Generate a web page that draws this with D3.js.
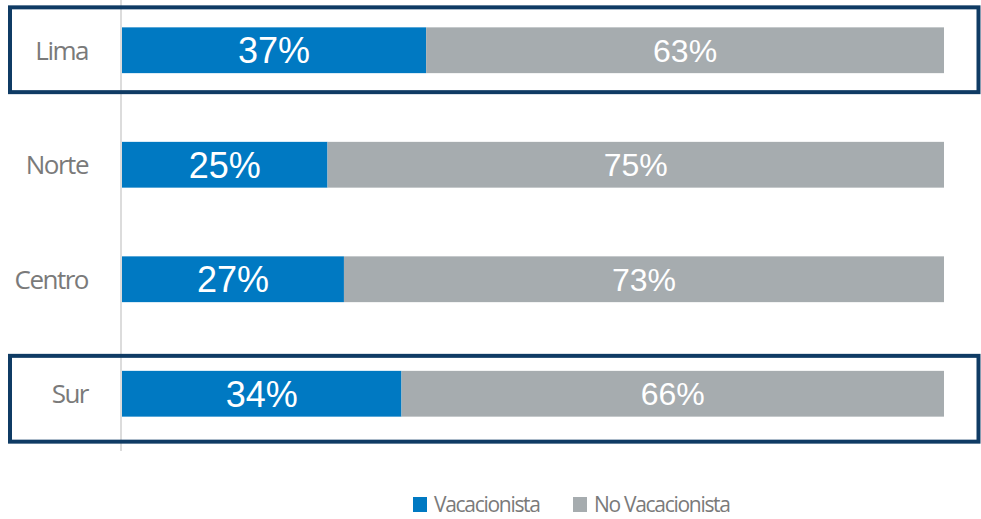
<!DOCTYPE html>
<html>
<head>
<meta charset="utf-8">
<script src="https://cdn.jsdelivr.net/npm/d3@7"></script>
<style>
  html, body { margin: 0; padding: 0; background: #fff; }
  svg { display: block; }
</style>
</head>
<body>
<svg id="chart" width="981" height="519"></svg>
<script>
// Share of travellers by region
const regions = ["Lima", "Norte", "Centro", "Sur"];
const vacacionista = [37, 25, 27, 34];
const noVacacionista = [63, 75, 73, 66];
const seriesNames = ["Vacacionista", "No Vacacionista"];
const highlighted = ["Lima", "Sur"];

const colors = { vac: "#0079c2", noVac: "#a6acaf", frame: "#0f3b64", text: "#7a7a7a", axis: "#dcdcdc" };

const svg = d3.select("#chart");

const x = d3.scaleLinear().domain([0, 100]).range([122, 944]);
const y = d3.scaleBand().domain(regions).range([-7, 451]).paddingInner(0.6).paddingOuter(0.3);

const rows = regions.map((r, i) => ({ region: r, vac: vacacionista[i], noVac: noVacacionista[i] }));

// vertical baseline
svg.append("line")
  .attr("x1", x(0) - 1).attr("x2", x(0) - 1)
  .attr("y1", 0).attr("y2", 451)
  .attr("stroke", colors.axis).attr("stroke-width", 2);

// highlight frames around selected regions
const framePad = { Lima: [20, 19], Sur: [15, 25] };
svg.selectAll("rect.frame")
  .data(rows.filter(d => highlighted.includes(d.region)))
  .join("rect")
  .attr("class", "frame")
  .attr("x", 10)
  .attr("width", 968.5)
  .attr("y", d => y(d.region) - framePad[d.region][0])
  .attr("height", d => y.bandwidth() + framePad[d.region][0] + framePad[d.region][1])
  .attr("fill", "none")
  .attr("stroke", colors.frame)
  .attr("stroke-width", 4);

const g = svg.selectAll("g.row").data(rows).join("g").attr("class", "row");

g.append("rect")
  .attr("x", x(0))
  .attr("y", d => y(d.region))
  .attr("width", d => x(d.vac) - x(0))
  .attr("height", y.bandwidth())
  .attr("fill", colors.vac);

g.append("rect")
  .attr("x", d => x(d.vac))
  .attr("y", d => y(d.region))
  .attr("width", d => x(d.vac + d.noVac) - x(d.vac))
  .attr("height", y.bandwidth())
  .attr("fill", colors.noVac);

g.append("text")
  .attr("x", d => (x(0) + x(d.vac)) / 2)
  .attr("y", d => y(d.region) + y.bandwidth() / 2)
  .attr("dy", "0.36em")
  .attr("text-anchor", "middle")
  .attr("fill", "#fff")
  .attr("font-family", "Liberation Sans, Arial, sans-serif")
  .attr("font-size", 36)
  .text(d => d.vac + "%");

g.append("text")
  .attr("x", d => (x(d.vac) + x(d.vac + d.noVac)) / 2)
  .attr("y", d => y(d.region) + y.bandwidth() / 2)
  .attr("dy", "0.36em")
  .attr("text-anchor", "middle")
  .attr("fill", "#fff")
  .attr("font-family", "Liberation Sans, Arial, sans-serif")
  .attr("font-size", 32)
  .text(d => d.noVac + "%");

g.append("text")
  .attr("x", 88)
  .attr("y", d => y(d.region) + y.bandwidth() / 2)
  .attr("dy", "0.36em")
  .attr("text-anchor", "end")
  .attr("fill", colors.text)
  .attr("font-family", "Open Sans, sans-serif")
  .attr("font-size", 26)
  .attr("letter-spacing", "-1.5px")
  .text(d => d.region);

// legend
const legendX = [413, 573];
const legendColors = [colors.vac, colors.noVac];
const lg = svg.selectAll("g.legend").data(seriesNames).join("g").attr("class", "legend")
  .attr("transform", (d, i) => `translate(${legendX[i]},497)`);
lg.append("rect").attr("width", 14).attr("height", 15).attr("fill", (d, i) => legendColors[i]);
lg.append("text")
  .attr("x", 21).attr("y", 15)
  .attr("fill", colors.text)
  .attr("font-family", "Open Sans, sans-serif")
  .attr("font-size", 21)
  .attr("letter-spacing", "-1.3px")
  .text(d => d);
</script>
</body>
</html>
